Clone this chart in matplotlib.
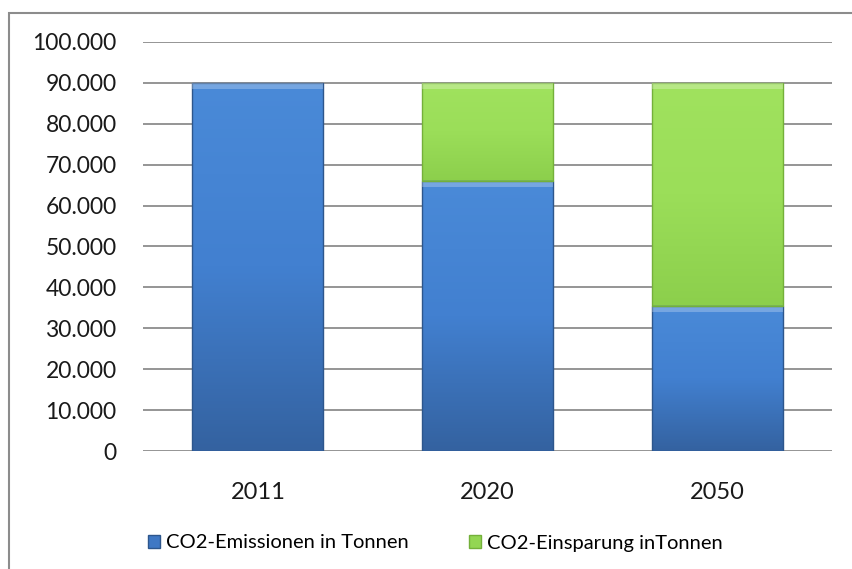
import numpy as np
import matplotlib.pyplot as plt
from matplotlib.patches import Rectangle
from matplotlib.colors import LinearSegmentedColormap
from matplotlib.ticker import FuncFormatter

years = ["2011", "2020", "2050"]
emissionen = [90000, 66000, 35500]
einsparung = [0, 24000, 54500]
labels = ["CO2-Emissionen in Tonnen", "CO2-Einsparung inTonnen"]

plt.rcParams["font.family"] = ["Lato", "DejaVu Sans"]

fig = plt.figure(figsize=(8.52, 5.69), dpi=100)
# outer frame (only top/left visible)
fig.patches.append(Rectangle((9 / 852, -0.1), 1.2, 1.1 - 13 / 569, transform=fig.transFigure,
                             fill=False, edgecolor="#8c8c8c", linewidth=1.5))

ax = fig.add_axes([143 / 852, 1 - 451 / 569, (832 - 143) / 852, (451 - 42) / 569])
ax.set_yticks(np.arange(0, 100001, 10000))
ax.yaxis.set_major_formatter(FuncFormatter(lambda v, p: "0" if v == 0 else f"{int(v):,}".replace(",", ".")))
ax.grid(axis="y", color="#8c8c8c", linewidth=1.3)
ax.set_axisbelow(True)
for s in ax.spines.values():
    s.set_visible(False)
ax.tick_params(length=0, colors="#1a1a1a")
ax.tick_params(axis="y", pad=19, labelsize=16.5)
ax.tick_params(axis="x", pad=22, labelsize=17)

x = np.arange(len(years))
w = 0.57
blue = LinearSegmentedColormap.from_list("b", ["#3462a0", "#4280d0", "#4a8ad8"])
green = LinearSegmentedColormap.from_list("g", ["#8ccf4c", "#9bde59", "#a0e25e"])
grad = np.linspace(0, 1, 256).reshape(-1, 1)


def gbar(xc, bottom, h, cmap, edge):
    if h <= 0:
        return
    r = Rectangle((xc - w / 2, bottom), w, h, facecolor="none", edgecolor=edge, linewidth=1.0, zorder=3)
    ax.add_patch(r)
    im = ax.imshow(grad, cmap=cmap, aspect="auto", origin="lower",
                   extent=(xc - w / 2, xc + w / 2, bottom, bottom + h), zorder=2)
    im.set_clip_path(r)
    # light bevel along the top
    ax.add_patch(Rectangle((xc - w / 2, bottom + h - 1500), w, 1500, facecolor="white",
                           alpha=0.25, edgecolor="none", zorder=3))


for i in x:
    gbar(i, 0, emissionen[i], blue, "#2d568c")
    gbar(i, emissionen[i], einsparung[i], green, "#74b03a")

ax.set_xticks(x)
ax.set_xticklabels(years)
ax.set_xlim(-0.5, 2.5)
ax.set_ylim(0, 100000)

handles = [Rectangle((0, 0), 1, 1, facecolor="#3f78c4", edgecolor="#2d568c"),
           Rectangle((0, 0), 1, 1, facecolor="#93d653", edgecolor="#74b03a")]
fig.legend(handles, labels, loc="center", bbox_to_anchor=(0.511, 1 - 543 / 569), ncol=2,
           frameon=False, fontsize=14.5, handlelength=0.6, handleheight=0.6,
           handletextpad=0.3, columnspacing=3.0)

fig.savefig("out.png", dpi=100, facecolor="white")
